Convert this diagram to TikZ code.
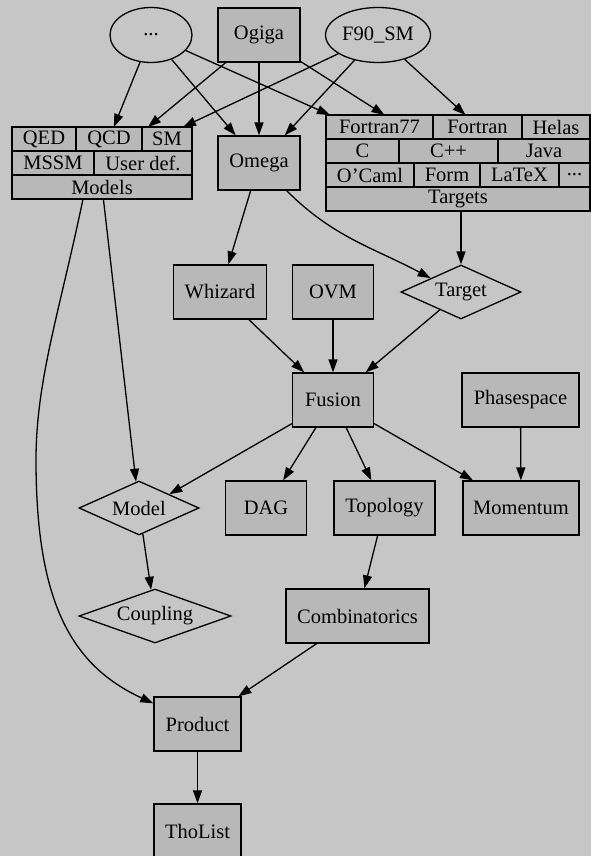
\documentclass[tikz,border=0pt]{standalone}
\usepackage{fontspec}
\setmainfont{Liberation Serif}
\usetikzlibrary{shapes.geometric, arrows.meta, positioning}
\definecolor{bggray}{RGB}{198,198,198}
\definecolor{boxgray}{RGB}{184,184,184}
\newcommand{\gvfont}{\fontsize{20.5}{24}\selectfont}
\tikzset{
  box/.style={rectangle, draw=black, fill=boxgray, line width=1.3pt,
    minimum height=54pt, inner sep=0pt, font=\gvfont},
  field/.style={rectangle, draw=black, fill=boxgray, line width=1.3pt,
    minimum height=24pt, inner sep=0pt, outer sep=0pt, font=\gvfont},
  oval/.style={ellipse, draw=black, line width=1.3pt,
    minimum height=55pt, inner sep=0pt, font=\gvfont},
  choice/.style={diamond, draw=black, line width=1.3pt, aspect=3,
    minimum height=54pt, inner sep=0pt, font=\gvfont},
  link/.style={-{Triangle[length=13pt, width=9pt]}, line width=1.3pt, color=black}
}
\begin{document}
\begin{tikzpicture}[x=1pt, y=-1pt]
  \fill[bggray] (0,0) rectangle (591,856);
  \useasboundingbox (0,0) rectangle (591,856);

  % Top row
  \node[oval, minimum width=82pt] (dots) at (151,35) {...};
  \node[box, minimum width=82pt] (ogiga) at (259,35) {Ogiga};
  \node[oval, minimum width=105pt] (f90) at (378,35) {F90\_SM};

  % Models record
  \node[field, anchor=north west, minimum width=64pt] (qed) at (12,127) {QED};
  \node[field, minimum width=66pt, right=0pt of qed] (qcd) {QCD};
  \node[field, minimum width=50pt, right=0pt of qcd] (sm) {SM};
  \node[field, anchor=north west, minimum width=82pt] (mssm) at (12,151) {MSSM};
  \node[field, minimum width=98pt, right=0pt of mssm] (userdef) {User def.};
  \node[field, anchor=north west, minimum width=180pt] (models) at (12,175) {Models};

  % Targets record
  \node[field, anchor=north west, minimum width=107pt] (f77) at (326,115) {Fortran77};
  \node[field, minimum width=89pt, right=0pt of f77] (fortran) {Fortran};
  \node[field, minimum width=68pt, right=0pt of fortran] (helas) {Helas};
  \node[field, anchor=north west, minimum width=73pt] (clang) at (326,139) {C};
  \node[field, minimum width=99pt, right=0pt of clang] (cpp) {C++};
  \node[field, minimum width=92pt, right=0pt of cpp] (java) {Java};
  \node[field, anchor=north west, minimum width=88pt] (ocaml) at (326,163) {O'Caml};
  \node[field, minimum width=66pt, right=0pt of ocaml] (form) {Form};
  \node[field, minimum width=79pt, right=0pt of form] (latex) {LaTeX};
  \node[field, minimum width=31pt, right=0pt of latex] (more) {...};
  \node[field, anchor=north west, minimum width=264pt] (targets) at (326,187) {Targets};

  % Middle
  \node[box, minimum width=82pt] (omega) at (259,163) {Omega};
  \node[box, minimum width=93pt] (whizard) at (220,292) {Whizard};
  \node[box, minimum width=81pt] (ovm) at (333,292) {OVM};
  \node[choice, minimum width=120pt] (target) at (461,292) {Target};
  \node[box, minimum width=81pt] (fusion) at (333,400) {Fusion};
  \node[box, minimum width=117pt] (phasespace) at (520.5,400) {Phasespace};

  % Lower rows
  \node[choice, minimum width=120pt] (model) at (139,508) {Model};
  \node[box, minimum width=81pt] (dag) at (266,508) {DAG};
  \node[box, minimum width=101pt] (topology) at (384.5,508) {Topology};
  \node[box, minimum width=116pt] (momentum) at (521,508) {Momentum};
  \node[choice, minimum width=152pt] (coupling) at (155,616) {Coupling};
  \node[box, minimum width=143pt] (combinatorics) at (357.5,616) {Combinatorics};
  \node[box, minimum width=87pt] (product) at (197.5,724) {Product};
  \node[box, minimum width=87pt] (tholist) at (197.5,831) {ThoList};

  % Edges from the top row
  \draw[link] (dots) -- (qcd);
  \draw[link] (dots) -- (omega);
  \draw[link] (dots) -- ([xshift=4pt]f77.north west);
  \draw[link] (ogiga) -- ([xshift=6pt]qcd.north east);
  \draw[link] (ogiga) -- (omega);
  \draw[link] (ogiga) -- ([xshift=5pt]f77.north);
  \draw[link] (f90) -- ([xshift=-9pt]sm.north east);
  \draw[link] (f90) -- (omega);
  \draw[link] (f90) -- ([xshift=-12pt]fortran.north);

  % Edges in the middle
  \draw[link] (omega) -- (whizard);
  \draw[link] (omega) to[out=-45, in=152] (target.north west);
  \draw[link] (target |- targets.south) -- (target);
  \draw[link] (whizard) -- (fusion);
  \draw[link] (ovm) -- (fusion);
  \draw[link] (target) -- (fusion);

  % Edges below Fusion
  \draw[link] (fusion) -- (model.north east);
  \draw[link] (fusion) -- (dag);
  \draw[link] (fusion) -- (topology);
  \draw[link] (fusion) -- (momentum);
  \draw[link] (phasespace) -- (momentum);
  \draw[link] (models) -- (model);
  \draw[link] (model) -- (coupling);
  \draw[link] (topology) -- (combinatorics);
  \draw[link] (combinatorics) -- (product);
  \draw[link] ([xshift=-19pt]models.south) .. controls (60,310) and (36,380) .. (36,460)
    .. controls (36,600) and (70,665) .. ([yshift=-7pt]product.north west);
  \draw[link] (product) -- (tholist);
\end{tikzpicture}
\end{document}
